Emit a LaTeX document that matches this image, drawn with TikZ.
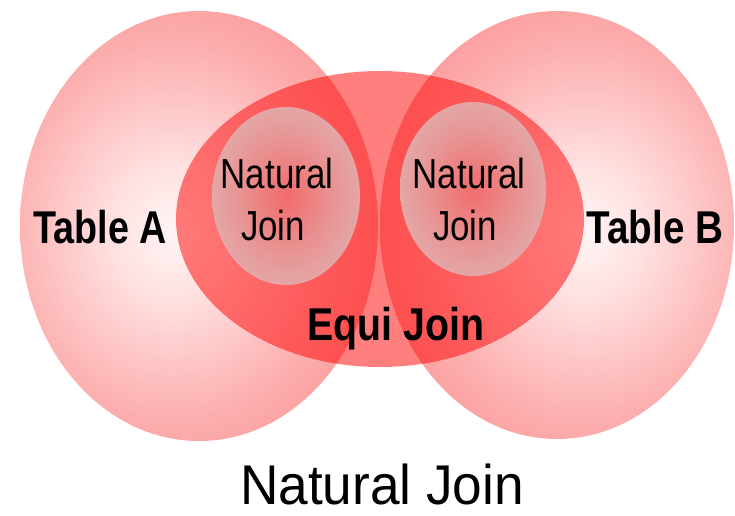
\documentclass[tikz,border=0pt]{standalone}
\usepackage{graphicx}
\usepackage{fontspec}
\setmainfont{Liberation Sans}
\pgfdeclareradialshading{tabshade}{\pgfpoint{0bp}{0bp}}{rgb(0bp)=(1,0.96,0.96); rgb(7bp)=(1,0.88,0.88); rgb(20bp)=(0.99,0.68,0.68); rgb(32bp)=(0.98,0.55,0.55); rgb(50bp)=(0.97,0.47,0.47)}
\pgfdeclareradialshading{natshade}{\pgfpoint{0bp}{0bp}}{rgb(0bp)=(0.95,0.42,0.42); rgb(16bp)=(0.91,0.58,0.58); rgb(36bp)=(0.87,0.74,0.74); rgb(50bp)=(0.87,0.78,0.78)}
\definecolor{equired}{RGB}{255,0,0}
\newcommand{\sqz}[2]{\scalebox{#1}[1]{#2}}
\begin{document}
\begin{tikzpicture}[x=1pt,y=-1pt,
  lbl/.style={inner sep=0pt, anchor=base, font=\bfseries\fontsize{46}{46}\selectfont},
  natlbl/.style={inner sep=0pt, anchor=base, font=\fontsize{42}{42}\selectfont},
  ttl/.style={inner sep=0pt, anchor=base, font=\fontsize{56}{56}\selectfont},
  equi/.style={fill=equired, fill opacity=0.5, draw=none}
  ]
\useasboundingbox (0,0) rectangle (735,515);
% Table A
\begin{scope}
  \clip (199,226) ellipse [x radius=179, y radius=215];
  \shade[shading=tabshade] (172,232) ellipse [x radius=212, y radius=238];
\end{scope}
% Table B
\begin{scope}
  \clip (557,225) ellipse [x radius=177, y radius=214];
  \shade[shading=tabshade] (585,232) ellipse [x radius=210, y radius=238];
\end{scope}
% Equi join region
\path[equi] (380,219) ellipse [x radius=204, y radius=148];
% Natural join regions
\shade[shading=natshade] (286,196) ellipse [x radius=74, y radius=89];
\shade[shading=natshade] (473,189) ellipse [x radius=73, y radius=87];
% Labels
\node[lbl] (ta) at (100,243) {\sqz{0.82}{Table A}};
\node[lbl] (tb) at (655,243) {\sqz{0.84}{Table B}};
\node[lbl] (ej) at (396,340) {\sqz{0.855}{Equi Join}};
\node[natlbl] (n1a) at (277,188) {\sqz{0.83}{Natural}};
\node[natlbl] (n1b) at (273,240) {\sqz{0.83}{Join}};
\node[natlbl] (n2a) at (469,188) {\sqz{0.83}{Natural}};
\node[natlbl] (n2b) at (465,240) {\sqz{0.83}{Join}};
\node[ttl] (title) at (382,504) {\sqz{0.95}{Natural Join}};
\end{tikzpicture}
\end{document}
